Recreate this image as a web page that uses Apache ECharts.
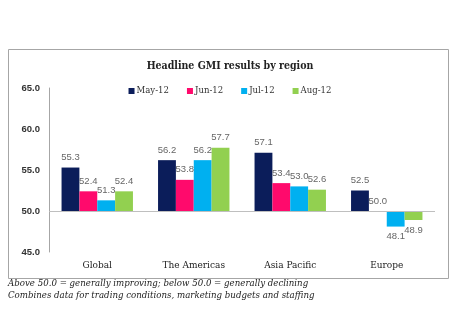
<!DOCTYPE html>
<html><head><meta charset="utf-8">
<script src="https://cdn.jsdelivr.net/npm/echarts@6/dist/echarts.min.js"></script>
<style>html,body{margin:0;padding:0;background:#fff}#c{width:460px;height:325px}</style>
</head><body><div id="c"></div>
<script>
const categories = ['Global', 'The Americas', 'Asia Pacific', 'Europe'];
const seriesNames = ['May-12', 'Jun-12', 'Jul-12', 'Aug-12'];
const may12 = [55.3, 56.2, 57.1, 52.5];
const jun12 = [52.4, 53.8, 53.4, 50.0];
const jul12 = [51.3, 56.2, 53.0, 48.1];
const aug12 = [52.4, 57.7, 52.6, 48.9];
const colors = ['#0b1d5a', '#ff0a6c', '#00b0f0', '#92d050'];
const baseline = 50;
const yMin = 45, yMax = 65, yStep = 5;

const allData = [may12, jun12, jul12, aug12];
const slab = '"DejaVu Serif Condensed", "DejaVu Serif", serif';
const chart = echarts.init(document.getElementById('c'));
const series = allData.map((arr, i) => ({
  name: seriesNames[i],
  type: 'bar',
  barGap: '0%',
  barCategoryGap: '26%',
  itemStyle: { color: colors[i] },
  label: {
    show: true,
    formatter: p => (p.value + baseline).toFixed(1),
    color: '#666',
    fontFamily: 'Liberation Sans, Arial, sans-serif',
    fontSize: 9.5,
    distance: 5
  },
  data: arr.map(v => ({
    value: +(v - baseline).toFixed(2),
    label: { position: v < baseline ? 'bottom' : 'top' }
  })),
  markLine: i === 0 ? {
    silent: true, symbol: 'none', label: { show: false },
    lineStyle: { color: '#bfbfbf', width: 1, type: 'solid' },
    data: [{ yAxis: 0 }]
  } : undefined
}));

chart.setOption({
  animation: false,
  color: colors,
  title: {
    text: 'Headline GMI results by region',
    left: 'center', top: 56,
    textStyle: { fontFamily: slab, fontWeight: 'bold', fontSize: 10.5, color: '#222' }
  },
  legend: {
    top: 81, left: 'center',
    itemWidth: 6, itemHeight: 6, itemGap: 18,
    icon: 'rect',
    textStyle: { fontFamily: slab, fontSize: 9.5, color: '#333', padding: [0, 0, 0, -3] },
    data: seriesNames
  },
  graphic: [
    { type: 'rect', shape: { x: 8.5, y: 49.5, width: 440, height: 229 }, style: { fill: 'none', stroke: '#a6a6a6', lineWidth: 1 }, z: -1 },
    { type: 'text', left: 8, top: 278, style: { text: 'Above 50.0 = generally improving; below 50.0 = generally declining', font: 'italic 9.6px "DejaVu Serif Condensed", "DejaVu Serif", serif', fill: '#222' } },
    { type: 'text', left: 8, top: 290, style: { text: 'Combines data for trading conditions, marketing budgets and staffing', font: 'italic 9.6px "DejaVu Serif Condensed", "DejaVu Serif", serif', fill: '#222' } }
  ],
  grid: { left: 49, right: 25, top: 88, bottom: 73 },
  xAxis: {
    type: 'category', data: categories,
    axisLine: { show: false }, axisTick: { show: false },
    axisLabel: { fontFamily: slab, fontSize: 10, color: '#222', margin: 8 }
  },
  yAxis: {
    type: 'value', min: yMin - baseline, max: yMax - baseline, interval: yStep,
    splitLine: { show: false },
    axisLine: { show: true, lineStyle: { color: '#a6a6a6' } },
    axisTick: { show: false },
    axisLabel: {
      formatter: v => (v + baseline).toFixed(1),
      fontFamily: 'Liberation Sans, Arial, sans-serif', fontSize: 9.5, fontWeight: 'bold', color: '#333', margin: 9
    }
  },
  series: series
});
</script></body></html>
